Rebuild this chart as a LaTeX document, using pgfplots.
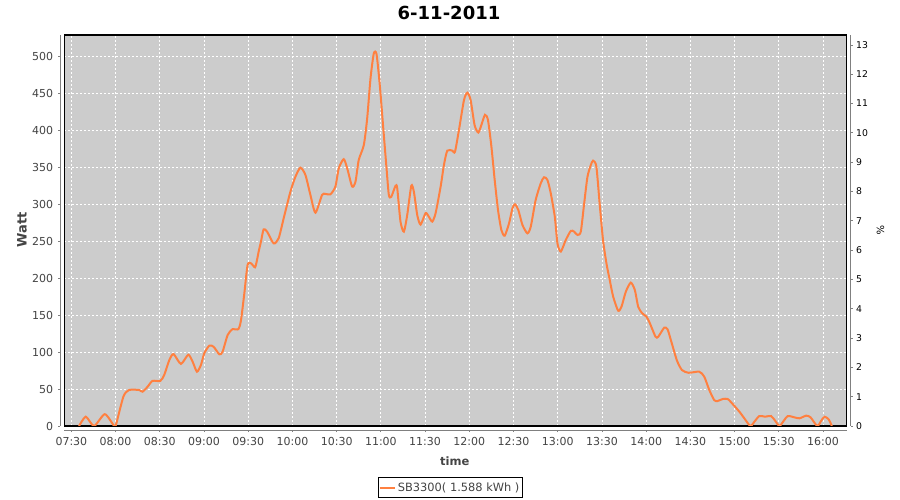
\documentclass[border=0pt]{standalone}
\usepackage{fontspec}
\setmainfont{DejaVu Sans}
\usepackage{pgfplots}
\pgfplotsset{compat=1.18}
\definecolor{plotbg}{RGB}{204,204,204}
\definecolor{lineor}{RGB}{255,128,64}
\definecolor{txtgray}{RGB}{68,68,68}
\definecolor{axgray}{RGB}{128,128,128}
\begin{document}
\begin{tikzpicture}
\path[use as bounding box, fill=white] (0,0) rectangle (900bp,500bp);
\begin{axis}[
  at={(64.3bp,74bp)}, anchor=south west,
  scale only axis, width=782.4bp, height=391bp,
  xmin=7.42, xmax=16.268, ymin=0, ymax=529,
  axis background/.style={fill=plotbg},
  axis line style={black, line width=1.2bp},
  xtick={7.5,8,8.5,9,9.5,10,10.5,11,11.5,12,12.5,13,13.5,14,14.5,15,15.5,16},
  xticklabels={07:30,08:00,08:30,09:00,09:30,10:00,10:30,11:00,11:30,12:00,12:30,13:00,13:30,14:00,14:30,15:00,15:30,16:00},
  ytick={0,50,100,150,200,250,300,350,400,450,500},
  tick pos=left,
  tick align=outside,
  major tick length=2bp,
  xtick style={draw=axgray, line width=0.8bp, yshift=-4bp},
  ytick style={draw=axgray, line width=0.8bp, xshift=-4bp},
  grid=major,
  major grid style={white, line width=0.8bp, dash pattern=on 2bp off 2bp},
  ticklabel style={font=\fontsize{11bp}{13bp}\selectfont, text=txtgray},
  yticklabel style={anchor=east, inner sep=0pt, xshift=-9bp},
  xticklabel style={anchor=north, inner sep=0pt, yshift=-8.7bp},
  /pgf/number format/assume math mode=true,
  legend style={at={(0.493,-0.1312)}, anchor=north, draw=black, line width=0.8bp,
    inner xsep=0.6bp, inner ysep=0bp, font=\fontsize{11.4bp}{13bp}\selectfont, text=txtgray,
    nodes={inner xsep=2bp, inner ysep=5bp},
    /tikz/every even column/.style={column sep=0bp}},
  legend image code/.code={\draw[#1] (0bp,0bp) -- (15.3bp,0bp);},
]
\addplot[color=lineor, line width=2bp, smooth, tension=0.4] table {
x y
7.587 0
7.663 12.6
7.757 0
7.878 16
7.984 0
8.003 1
8.089 40
8.153 48.7
8.267 48.7
8.304 46.4
8.361 53
8.417 61
8.505 61
8.55 69
8.607 89
8.655 97.4
8.739 84
8.822 96.5
8.871 87
8.92 73.5
8.965 82.5
9.003 98.4
9.06 108.7
9.108 107.3
9.173 97
9.21 100.5
9.267 123
9.323 131
9.388 131
9.418 143
9.456 179.5
9.493 218
9.532 220
9.577 214.7
9.6 225
9.618 236
9.645 250
9.674 266
9.713 263
9.788 247
9.844 254
9.901 281
9.977 317
10.033 337
10.09 349.5
10.147 339.6
10.203 312.6
10.26 288.6
10.335 312.6
10.373 314
10.43 313.5
10.486 324
10.524 348.7
10.58 361
10.619 348.7
10.675 324
10.713 330.6
10.75 360
10.807 380
10.845 416
10.883 470.5
10.92 504
10.951 503
10.988 461
11.027 403
11.064 348.7
11.09 312.6
11.117 310
11.166 325
11.185 321.6
11.222 276.5
11.26 263
11.298 285.5
11.344 325
11.373 317
11.412 285
11.449 272.5
11.506 288
11.543 283
11.581 276.5
11.619 288
11.676 324
11.713 353
11.751 372.5
11.808 372.5
11.838 371
11.883 400.5
11.94 441
11.978 451
12.015 441
12.06 407
12.102 397
12.136 407
12.177 421
12.211 414
12.25 378
12.287 333
12.325 292
12.363 265
12.4 257.5
12.449 274
12.488 294.6
12.517 300
12.555 292
12.601 272
12.657 260.7
12.695 269.7
12.751 306
12.808 328.4
12.845 336.5
12.883 333
12.921 315
12.967 283
12.997 247
13.035 236
13.091 251.7
13.148 264
13.185 263
13.223 258.5
13.261 263
13.298 300
13.336 337
13.374 353
13.40 359
13.437 351
13.474 301
13.512 251.7
13.551 220
13.588 197.6
13.627 175
13.683 156
13.721 161.4
13.77 181.7
13.826 194
13.872 184
13.91 161.4
13.955 152.5
14.003 148
14.042 139
14.106 120.8
14.137 120.8
14.204 133
14.242 130.8
14.28 116
14.347 89
14.404 75.8
14.48 72
14.60 73.5
14.657 66.7
14.714 48.7
14.77 35
14.808 33.8
14.865 36.5
14.922 36.5
14.978 29.8
15.054 19.4
15.11 10.4
15.178 0
15.224 5.8
15.28 13.5
15.345 12.6
15.413 13.5
15.458 7.2
15.507 0
15.557 7.2
15.602 13.5
15.677 11.7
15.734 10.4
15.81 14
15.859 11.7
15.935 0
15.98 7.2
16.017 12.6
16.064 9
16.10 0
};
\addlegendentry{SB3300( 1.588 kWh )}
\end{axis}
\begin{axis}[
  at={(64.3bp,74bp)}, anchor=south west,
  scale only axis, width=782.4bp, height=391bp,
  xmin=7.42, xmax=16.268, ymin=0, ymax=13.34,
  hide x axis, axis y line*=right,
  axis line style={black, line width=1.2bp},
  ytick={0,1,2,3,4,5,6,7,8,9,10,11,12,13},
  tick align=outside, major tick length=2bp,
  ytick style={draw=axgray, line width=0.8bp, xshift=4bp},
  yticklabel style={anchor=west, inner sep=0pt, xshift=7.3bp, font=\fontsize{9.3bp}{11bp}\selectfont, text=black},
  /pgf/number format/assume math mode=true,
]
\addplot[draw=none] coordinates {(8,0)};
\end{axis}
\draw[axgray, line width=0.8bp] (60.5bp,74bp) -- (60.5bp,465bp);
\draw[axgray, line width=0.8bp] (64.3bp,70bp) -- (846.7bp,70bp);
\draw[axgray, line width=0.8bp] (850.5bp,74bp) -- (850.5bp,465bp);
\node[anchor=base, font=\bfseries\fontsize{18bp}{20bp}\selectfont] at (449bp,480bp) {6-11-2011};
\node[rotate=90, font=\bfseries\fontsize{13bp}{15bp}\selectfont, text=txtgray] at (22bp,270bp) {Watt};
\node[anchor=base, font=\bfseries\fontsize{11.5bp}{14bp}\selectfont, text=txtgray] at (454.7bp,35bp) {time};
\node[rotate=-90, font=\fontsize{10bp}{12bp}\selectfont] at (880.5bp,270bp) {\%};
\end{tikzpicture}
\end{document}
